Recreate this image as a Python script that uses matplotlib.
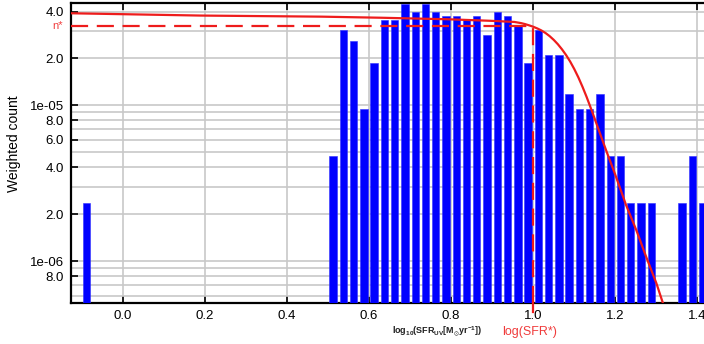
import numpy as np
import matplotlib
matplotlib.use("Agg")
import matplotlib.pyplot as plt
from matplotlib.ticker import FixedLocator, FixedFormatter, NullFormatter

plt.rcParams['font.family'] = ['Liberation Sans', 'DejaVu Sans']
plt.rcParams['mathtext.default'] = 'regular'

# ---- data ----
bin_centers = [-0.0875,
               0.5125, 0.5375, 0.5625, 0.5875, 0.6125, 0.6375, 0.6625, 0.6875,
               0.7125, 0.7375, 0.7625, 0.7875, 0.8125, 0.8375, 0.8625, 0.8875,
               0.9125, 0.9375, 0.9625, 0.9875, 1.0125, 1.0375, 1.0625, 1.0875,
               1.1125, 1.1375, 1.1625, 1.1875, 1.2125, 1.2375, 1.2625, 1.2875,
               1.3625, 1.3875, 1.4125]
weighted_counts = [2.35e-6,
                   4.70e-6, 3.055e-5, 2.585e-5, 9.40e-6, 1.88e-5, 3.525e-5, 3.525e-5, 4.465e-5,
                   3.995e-5, 4.465e-5, 3.995e-5, 3.76e-5, 3.76e-5, 3.525e-5, 3.76e-5, 2.82e-5,
                   3.995e-5, 3.76e-5, 3.29e-5, 1.88e-5, 3.055e-5, 2.115e-5, 2.115e-5, 1.175e-5,
                   9.40e-6, 9.40e-6, 1.175e-5, 4.70e-6, 4.70e-6, 2.35e-6, 2.35e-6, 2.35e-6,
                   2.35e-6, 4.70e-6, 2.35e-6]

fit_x = [-0.126, 0.190, 0.484, 0.631, 0.790, 0.895, 0.925, 0.954, 0.970, 0.980,
         0.990, 1.000, 1.010, 1.020, 1.030, 1.040, 1.050, 1.060, 1.070, 1.080,
         1.090, 1.100, 1.110, 1.120, 1.130, 1.140, 1.150, 1.160, 1.170, 1.180,
         1.190, 1.200, 1.226, 1.251, 1.275, 1.300, 1.316, 1.335]
fit_y = [3.90e-5, 3.77e-5, 3.71e-5, 3.65e-5, 3.57e-5, 3.49e-5, 3.46e-5, 3.43e-5, 3.373e-5, 3.323e-5,
         3.262e-5, 3.195e-5, 3.115e-5, 3.023e-5, 2.911e-5, 2.780e-5, 2.630e-5, 2.466e-5, 2.288e-5, 2.102e-5,
         1.908e-5, 1.708e-5, 1.509e-5, 1.314e-5, 1.131e-5, 9.627e-6, 8.156e-6, 6.894e-6, 5.821e-6, 4.932e-6,
         4.198e-6, 3.573e-6, 2.29e-6, 1.58e-6, 1.065e-6, 7.19e-7, 5.35e-7, 4.2e-7]

n_star = 3.23e-5
log_sfr_star = 1.0

x_ticks = [0.0, 0.2, 0.4, 0.6, 0.8, 1.0, 1.2, 1.4]
x_ticklabels = ['0.0', '0.2', '0.4', '0.6', '0.8', '1.0', '1.2', '1.4']
y_major = [4e-5, 2e-5, 1e-5, 8e-6, 6e-6, 4e-6, 2e-6, 1e-6, 8e-7]
y_labels = ['4.0', '2.0', '1e-05', '8.0', '6.0', '4.0', '2.0', '1e-06', '8.0']
y_minor = [3e-5, 9e-6, 7e-6, 5e-6, 3e-6, 9e-7, 7e-7, 6e-7]

x_lim = (-0.126, 1.4245)
y_lim = (5.35e-7, 4.56e-5)

# ---- figure ----
fig = plt.figure(figsize=(7.04, 3.44), dpi=100)
ax = fig.add_axes([71/704, 1 - 303.3/344, 1 - 71/704 + 0.005, (303.3 - 2.7)/344])
ax.set_yscale('log')
ax.set_xlim(*x_lim)
ax.set_ylim(*y_lim)

ax.bar(bin_centers, [v - y_lim[0] for v in weighted_counts], bottom=y_lim[0],
       width=0.018, color='#0000ff', edgecolor='#3030ff', linewidth=0.4, zorder=3)

red = '#ee1c1c'
ax.plot(fit_x, fit_y, color=red, lw=1.6, zorder=5, solid_joinstyle='round')
ax.plot([x_lim[0], log_sfr_star], [n_star, n_star], color=red, lw=1.6,
        dashes=(7.7, 3.9), zorder=5)
ax.plot([log_sfr_star, log_sfr_star], [y_lim[0], n_star], color=red, lw=1.6,
        dashes=(7.7, 3.9), zorder=5)
ax.plot([log_sfr_star, log_sfr_star], [-0.03, 0.0], color=red, lw=1.6,
        transform=ax.get_xaxis_transform(), clip_on=False, zorder=5)

ax.text(-0.012, n_star, 'n*', color='#f03c3c', fontsize=8, ha='right', va='center',
        transform=ax.get_yaxis_transform())

ax.xaxis.set_major_locator(FixedLocator(x_ticks))
ax.set_xticklabels(x_ticklabels)
ax.yaxis.set_major_locator(FixedLocator(y_major))
ax.yaxis.set_major_formatter(FixedFormatter(y_labels))
ax.yaxis.set_minor_locator(FixedLocator(y_minor))
ax.yaxis.set_minor_formatter(NullFormatter())

ax.grid(True, which='major', color='#c8c8c8', lw=1.2, zorder=0)
ax.grid(True, which='minor', axis='y', color='#c8c8c8', lw=1.2, zorder=0)
ax.set_axisbelow(True)

ax.tick_params(axis='both', which='major', direction='in', length=5, width=1.2,
               labelsize=9.5, top=True, right=False, color='black', pad=5)
ax.tick_params(axis='y', which='minor', length=0)
for s in ['left', 'bottom', 'top']:
    ax.spines[s].set_linewidth(1.6)
ax.spines['right'].set_visible(False)

ax.set_ylabel('Weighted count', fontsize=10)
ax.yaxis.set_label_coords(-0.078, 0.53)

fig.text(437/704, 1 - 331.5/344, r'log$_{10}$(SFR$_{UV}$[M$_{\odot}$yr$^{-1}$])',
         fontsize=6.5, fontweight='bold', ha='center', va='center', color='#222222')
fig.text(530/704, 1 - 331.5/344, 'log(SFR*)', fontsize=9, color='#f03c3c',
         ha='center', va='center')

fig.savefig('out.png', dpi=100)
